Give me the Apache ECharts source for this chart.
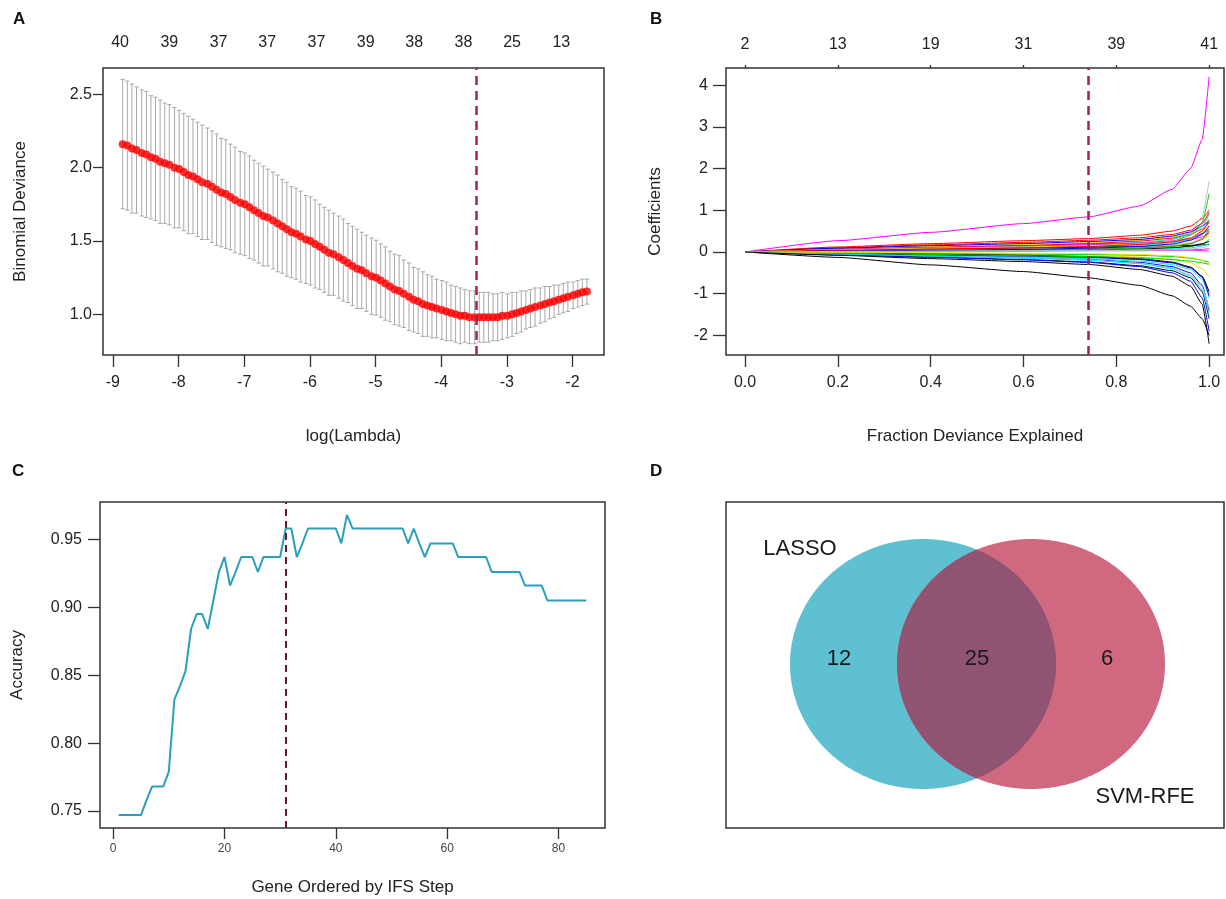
<!DOCTYPE html>
<html><head><meta charset="utf-8">
<script src="https://cdn.jsdelivr.net/npm/echarts@6/dist/echarts.min.js"></script>
<style>html,body{margin:0;padding:0;background:#fff}#c{width:1226px;height:899px}</style>
</head><body><div id="c"></div>
<script>
// ---------- Panel A: cv.glmnet binomial deviance ----------
const logLambda = [
 -8.85,-8.78,-8.71,-8.64,-8.56,-8.49,-8.42,-8.35,-8.28,-8.21,
 -8.14,-8.06,-7.99,-7.92,-7.85,-7.78,-7.71,-7.64,-7.56,-7.49,
 -7.42,-7.35,-7.28,-7.21,-7.14,-7.06,-6.99,-6.92,-6.85,-6.78,
 -6.71,-6.64,-6.56,-6.49,-6.42,-6.35,-6.28,-6.21,-6.14,-6.06,
 -5.99,-5.92,-5.85,-5.78,-5.71,-5.64,-5.56,-5.49,-5.42,-5.35,
 -5.28,-5.21,-5.14,-5.06,-4.99,-4.92,-4.85,-4.78,-4.71,-4.64,
 -4.57,-4.49,-4.42,-4.35,-4.28,-4.21,-4.14,-4.07,-3.99,-3.92,
 -3.85,-3.78,-3.71,-3.64,-3.57,-3.49,-3.42,-3.35,-3.28,-3.21,
 -3.14,-3.07,-2.99,-2.92,-2.85,-2.78,-2.71,-2.64,-2.57,-2.49,
 -2.42,-2.35,-2.28,-2.21,-2.14,-2.07,-1.99,-1.92,-1.85,-1.78];
const cvMean = [
 2.16,2.15,2.13,2.12,2.10,2.09,2.07,2.06,2.04,2.03,
 2.02,2.00,1.99,1.97,1.95,1.94,1.92,1.90,1.89,1.87,
 1.85,1.83,1.82,1.80,1.78,1.76,1.75,1.73,1.71,1.69,
 1.67,1.66,1.64,1.62,1.60,1.58,1.56,1.55,1.53,1.51,
 1.50,1.48,1.46,1.44,1.42,1.41,1.39,1.37,1.35,1.33,
 1.31,1.30,1.28,1.26,1.25,1.23,1.21,1.19,1.17,1.16,
 1.14,1.12,1.10,1.09,1.07,1.06,1.05,1.04,1.03,1.02,
 1.01,1.00,0.99,0.99,0.98,0.98,0.98,0.98,0.98,0.98,
 0.98,0.99,0.99,1.00,1.01,1.02,1.03,1.04,1.05,1.06,
 1.07,1.08,1.09,1.10,1.11,1.12,1.13,1.14,1.15,1.155];
const cvSE = [
 0.44,0.44,0.44,0.43,0.43,0.43,0.42,0.42,0.42,0.41,
 0.41,0.41,0.40,0.40,0.40,0.39,0.39,0.39,0.38,0.38,
 0.38,0.37,0.37,0.36,0.36,0.35,0.35,0.35,0.34,0.34,
 0.34,0.33,0.33,0.33,0.32,0.32,0.31,0.31,0.31,0.30,
 0.30,0.30,0.29,0.29,0.29,0.28,0.28,0.28,0.27,0.27,
 0.27,0.26,0.26,0.26,0.255,0.25,0.25,0.24,0.24,0.24,
 0.23,0.23,0.22,0.22,0.22,0.21,0.21,0.20,0.20,0.20,
 0.19,0.19,0.19,0.18,0.18,0.18,0.17,0.17,0.17,0.16,
 0.16,0.16,0.15,0.15,0.14,0.14,0.13,0.13,0.13,0.12,
 0.12,0.11,0.11,0.10,0.10,0.10,0.09,0.09,0.09,0.085];
const lambdaMinLog = -3.47;
const lambdaTicks = [-9,-8,-7,-6,-5,-4,-3,-2];
const devianceTicks = [1.0,1.5,2.0,2.5];
const topPosA = [-8.89,-8.14,-7.39,-6.65,-5.90,-5.15,-4.41,-3.66,-2.92,-2.17];
const topCountA = [40,39,37,37,37,39,38,38,25,13];

// ---------- Panel B: coefficient paths ----------
const fracDev = [0,0.2,0.4,0.6,0.74,0.85,0.92,0.96,0.985,1.0];
const coefPaths = [
 [0,-0.13,-0.31,-0.47,-0.62,-0.80,-1.05,-1.30,-1.60,-2.00],
 [0,0.12,0.20,0.27,0.32,0.40,0.50,0.62,0.80,1.00],
 [0,0.05,0.08,0.10,0.12,0.17,0.25,0.40,0.70,1.40],
 [0,-0.05,-0.10,-0.14,-0.18,-0.25,-0.35,-0.50,-0.80,-1.40],
 [0,-0.04,-0.08,-0.12,-0.16,-0.22,-0.30,-0.42,-0.65,-1.10],
 [0,0.07,0.12,0.16,0.19,0.22,0.26,0.30,0.36,0.45],
 [0,0.08,0.13,0.18,0.22,0.28,0.36,0.45,0.60,0.80],
 [0,0.06,0.10,0.13,0.15,0.20,0.30,0.45,0.85,1.70],
 [0,-0.06,-0.12,-0.18,-0.24,-0.33,-0.45,-0.62,-0.95,-1.60],
 [0,0.10,0.17,0.23,0.28,0.34,0.42,0.52,0.68,0.95],
 [0,0.03,0.05,0.06,0.07,0.08,0.10,0.13,0.18,0.30],
 [0,0.09,0.15,0.20,0.25,0.30,0.38,0.48,0.62,0.75],
 [0,0.04,0.07,0.10,0.12,0.16,0.22,0.30,0.45,0.60],
 [0,0.03,0.05,0.06,0.07,0.07,0.06,0.05,0.03,0.02],
 [0,-0.02,-0.04,-0.06,-0.08,-0.12,-0.18,-0.26,-0.40,-0.60],
 [0,-0.03,-0.06,-0.09,-0.12,-0.18,-0.26,-0.38,-0.60,-1.00],
 [0,0.02,0.03,0.04,0.05,0.07,0.10,0.14,0.20,0.25],
 [0,0.06,0.11,0.15,0.20,0.26,0.33,0.42,0.55,0.70],
 [0,-0.01,-0.03,-0.05,-0.06,-0.08,-0.11,-0.15,-0.20,-0.25],
 [0,-0.07,-0.13,-0.19,-0.25,-0.35,-0.50,-0.70,-1.10,-1.90],
 [0,0.05,0.09,0.13,0.16,0.22,0.30,0.42,0.62,0.90],
 [0,0.01,0.02,0.02,0.03,0.03,0.04,0.05,0.06,0.08],
 [0,0.04,0.06,0.08,0.10,0.13,0.17,0.22,0.30,0.38],
 [0,-0.05,-0.09,-0.14,-0.19,-0.27,-0.38,-0.55,-0.85,-1.35],
 [0,0.04,0.07,0.09,0.11,0.13,0.15,0.16,0.17,0.18],
 [0,0.02,0.04,0.06,0.08,0.10,0.14,0.20,0.30,0.50],
 [0,0.02,0.04,0.05,0.06,0.09,0.13,0.20,0.32,0.55],
 [0,-0.04,-0.07,-0.10,-0.13,-0.18,-0.26,-0.38,-0.60,-1.05],
 [0,0.01,0.02,0.03,0.04,0.05,0.07,0.10,0.14,0.20],
 [0,0.06,0.10,0.14,0.17,0.21,0.26,0.33,0.44,0.55],
 [0,0.05,0.09,0.12,0.15,0.19,0.25,0.33,0.48,0.65],
 [0,0.03,0.05,0.07,0.09,0.12,0.16,0.22,0.32,0.42],
 [0,-0.02,-0.05,-0.08,-0.11,-0.16,-0.24,-0.36,-0.58,-0.95],
 [0,0.04,0.07,0.10,0.13,0.18,0.24,0.33,0.50,0.75],
 [0,-0.03,-0.06,-0.09,-0.11,-0.14,-0.18,-0.22,-0.26,-0.30],
 [0,0.02,0.04,0.06,0.09,0.13,0.19,0.28,0.42,0.62],
 [0,-0.05,-0.10,-0.15,-0.20,-0.28,-0.40,-0.58,-0.90,-1.50],
 [0,0.27,0.47,0.68,0.84,1.10,1.50,2.00,2.70,4.20],
 [0,-0.01,-0.02,-0.03,-0.04,-0.06,-0.09,-0.13,-0.20,-0.30],
 [0,0.01,0.02,0.03,0.03,0.04,0.05,0.07,0.10,0.15],
 [0,-0.08,-0.16,-0.23,-0.30,-0.42,-0.58,-0.82,-1.25,-2.20]];
const pathColors = ['#000000','#ff0000','#00cd00','#0000ff','#00e5ee','#ff00ff','#e8e800','#bebebe'];
const fracSelected = 0.74;
const fracTicks = [0,0.2,0.4,0.6,0.8,1.0];
const topCountB = [2,13,19,31,39,41];
const coefTicks = [-2,-1,0,1,2,3,4];

// ---------- Panel C: IFS accuracy ----------
const ifsAccuracy = [
 0.747,0.747,0.747,0.747,0.747,0.758,0.768,0.768,0.768,0.779,
 0.832,0.842,0.853,0.884,0.895,0.895,0.884,0.905,0.926,0.937,
 0.916,0.926,0.937,0.937,0.937,0.926,0.937,0.937,0.937,0.937,
 0.958,0.958,0.937,0.947,0.958,0.958,0.958,0.958,0.958,0.958,
 0.947,0.968,0.958,0.958,0.958,0.958,0.958,0.958,0.958,0.958,
 0.958,0.958,0.947,0.958,0.947,0.937,0.947,0.947,0.947,0.947,
 0.947,0.937,0.937,0.937,0.937,0.937,0.937,0.926,0.926,0.926,
 0.926,0.926,0.926,0.916,0.916,0.916,0.916,0.905,0.905,0.905,
 0.905,0.905,0.905,0.905,0.905];
const ifsBest = 31;
const geneTicks = [0,20,40,60,80];
const accTicks = [0.75,0.80,0.85,0.90,0.95];

// ---------- Panel D: Venn ----------
const vennSetNames = ['LASSO','SVM-RFE'];
const vennCounts = [12,25,6];

// ---------- layout constants ----------
const FONT = 'Liberation Sans, Arial, Helvetica, sans-serif';
const TXT = '#222';
const AX = '#333';
const vennShapes = [ {cx:197, cy:162, rx:133, ry:125}, {cx:305, cy:162, rx:134, ry:125} ];
const vennFill = ['#5fc0d2','#d06880','#905371'];
const vennTextPos = [[74,47],[113,157],[251,157],[381,157],[419,295]];

const lbl = (extra) => Object.assign({fontSize:16, color:TXT, fontFamily:FONT}, extra);
const nameStyle = {fontSize:17, color:TXT, fontFamily:FONT};
const tickStyle = {color:AX, width:1.3};
const noLine = {show:false, onZero:false};
const gridBase = {show:true, borderColor:'#333', borderWidth:1.5, backgroundColor:'#fff', containLabel:false};

function ellipsePts(e){
  const pts=[];
  for(let t=0;t<360;t+=1){const a=t*Math.PI/180; pts.push([e.cx+e.rx*Math.cos(a), e.cy+e.ry*Math.sin(a)]);}
  return pts;
}
function inside(p,e){const dx=(p[0]-e.cx)/e.rx, dy=(p[1]-e.cy)/e.ry; return dx*dx+dy*dy<=1;}
function lensPts(){
  const [b,p]=vennShapes; const out=[];
  for(let t=0;t<=360;t+=0.5){const a=t*Math.PI/180; const q=[p.cx+p.rx*Math.cos(a), p.cy+p.ry*Math.sin(a)]; if(inside(q,b)) out.push(q);}
  for(let t=-180;t<=180;t+=0.5){const a=t*Math.PI/180; const q=[b.cx+b.rx*Math.cos(a), b.cy+b.ry*Math.sin(a)]; if(inside(q,p)) out.push(q);}
  return out;
}

const chart = echarts.init(document.getElementById('c'), null, {renderer:'canvas', width:1226, height:899});

const series = [];
// A error bars
series.push({
  type:'custom', xAxisIndex:0, yAxisIndex:0, z:2,
  data: logLambda.map((x,i)=>[x, cvMean[i]-cvSE[i], cvMean[i]+cvSE[i]]),
  encode:{x:0, y:[1,2]},
  renderItem:(params, api)=>{
    const x=api.value(0), lo=api.value(1), hi=api.value(2);
    const p1=api.coord([x,hi]), p2=api.coord([x,lo]); const cw=2.2;
    const st={stroke:'#a9a9a9', lineWidth:1};
    return {type:'group', children:[
      {type:'line', shape:{x1:p1[0],y1:p1[1],x2:p2[0],y2:p2[1]}, style:st},
      {type:'line', shape:{x1:p1[0]-cw,y1:p1[1],x2:p1[0]+cw,y2:p1[1]}, style:st},
      {type:'line', shape:{x1:p2[0]-cw,y1:p2[1],x2:p2[0]+cw,y2:p2[1]}, style:st}
    ]};
  }
});
// A mean points
series.push({
  type:'scatter', xAxisIndex:0, yAxisIndex:0, z:3,
  symbol:'circle', symbolSize:8, itemStyle:{color:'#ff0000'},
  data: logLambda.map((x,i)=>[x, cvMean[i]]),
  markLine:{silent:true, symbol:['none','none'], label:{show:false}, animation:false,
    lineStyle:{type:[9,6], color:'#a3244f', width:2.5}, data:[{xAxis:lambdaMinLog}]}
});
// B paths
coefPaths.forEach((row, k)=>{
  series.push({
    type:'line', xAxisIndex:2, yAxisIndex:1, z:2,
    data: fracDev.map((x,i)=>[x,row[i]]),
    showSymbol:false, smooth:0.15, smoothMonotone:'x',
    lineStyle:{width:1, color:pathColors[k % pathColors.length]}
  });
});
series[series.length-1].markLine = {silent:true, symbol:['none','none'], label:{show:false}, animation:false,
  lineStyle:{type:[9,6], color:'#a3244f', width:2.5}, data:[{xAxis:fracSelected}]};
// C
series.push({
  type:'line', xAxisIndex:4, yAxisIndex:2, z:3,
  data: ifsAccuracy.map((v,i)=>[i+1, v]),
  showSymbol:false, lineStyle:{width:2, color:'#2a9fbd'},
  markLine:{silent:true, symbol:['none','none'], label:{show:false}, animation:false,
    lineStyle:{type:[7,5], color:'#6e1838', width:2}, data:[{xAxis:ifsBest}]}
});
// D shapes
series.push({
  type:'custom', xAxisIndex:5, yAxisIndex:3, z:2,
  data:[[0],[1],[2]],
  renderItem:(params, api)=>{
    const i=params.dataIndex;
    const pts = (i<2 ? ellipsePts(vennShapes[i]) : lensPts()).map(p=>api.coord(p));
    return {type:'polygon', shape:{points:pts}, style:{fill:vennFill[i], stroke:null}};
  }
});
// D texts
const vennTexts = [vennSetNames[0], String(vennCounts[0]), String(vennCounts[1]), String(vennCounts[2]), vennSetNames[1]];
series.push({
  type:'custom', xAxisIndex:5, yAxisIndex:3, z:5,
  data: vennTextPos.map((p,i)=>[p[0],p[1],i]),
  renderItem:(params, api)=>{
    const c=api.coord([api.value(0), api.value(1)]);
    return {type:'text', x:c[0], y:c[1], style:{text:vennTexts[params.dataIndex], fontSize:22, fontFamily:FONT, fill:'#1a1a1a', align:'center', verticalAlign:'middle'}};
  }
});

const option = {
  animation:false,
  backgroundColor:'#fff',
  graphic:[
    {type:'text', left:13, top:11, style:{text:'A', font:'bold 17px '+FONT, fill:'#111'}},
    {type:'text', left:650, top:11, style:{text:'B', font:'bold 17px '+FONT, fill:'#111'}},
    {type:'text', left:12, top:463, style:{text:'C', font:'bold 17px '+FONT, fill:'#111'}},
    {type:'text', left:650, top:463, style:{text:'D', font:'bold 17px '+FONT, fill:'#111'}}
  ],
  grid:[
    Object.assign({left:103, top:68, width:501, height:287}, gridBase),
    Object.assign({left:726, top:68, width:498, height:287}, gridBase),
    Object.assign({left:100, top:502, width:505, height:326}, gridBase),
    Object.assign({left:726, top:502, width:498, height:326}, gridBase)
  ],
  xAxis:[
    {gridIndex:0, type:'value', min:-9.15, max:-1.52, splitLine:{show:false}, axisLine:noLine,
     axisTick:{show:true, length:12, customValues:lambdaTicks, lineStyle:tickStyle},
     axisLabel:lbl({customValues:lambdaTicks, margin:20, formatter:v=>String(v)}),
     name:'log(Lambda)', nameLocation:'middle', nameGap:73, nameTextStyle:nameStyle},
    {gridIndex:0, type:'value', position:'top', min:-9.15, max:-1.52, splitLine:{show:false}, axisLine:noLine,
     axisTick:{show:false},
     axisLabel:lbl({customValues:topPosA, margin:17, formatter:v=>{const k=topPosA.findIndex(p=>Math.abs(p-v)<1e-6); return k>=0?String(topCountA[k]):'';}})},
    {gridIndex:1, type:'value', min:-0.041, max:1.032, splitLine:{show:false}, axisLine:noLine,
     axisTick:{show:true, length:12, customValues:fracTicks, lineStyle:tickStyle},
     axisLabel:lbl({customValues:fracTicks, margin:20, formatter:v=>v.toFixed(1)}),
     name:'Fraction Deviance Explained', nameLocation:'middle', nameGap:73, nameTextStyle:nameStyle},
    {gridIndex:1, type:'value', position:'top', min:-0.041, max:1.032, splitLine:{show:false}, axisLine:noLine,
     axisTick:{show:true, length:3, customValues:fracTicks, lineStyle:tickStyle},
     axisLabel:lbl({customValues:fracTicks, margin:15, formatter:v=>{const k=fracTicks.findIndex(p=>Math.abs(p-v)<1e-6); return k>=0?String(topCountB[k]):'';}})},
    {gridIndex:2, type:'value', min:-2.36, max:88.36, splitLine:{show:false}, axisLine:noLine,
     axisTick:{show:true, length:11, customValues:geneTicks, lineStyle:tickStyle},
     axisLabel:{customValues:geneTicks, margin:15, fontSize:12, color:'#444', fontFamily:FONT},
     name:'Gene Ordered by IFS Step', nameLocation:'middle', nameGap:51, nameTextStyle:nameStyle},
    {gridIndex:3, type:'value', min:0, max:498, show:false}
  ],
  yAxis:[
    {gridIndex:0, type:'value', min:0.723, max:2.679, splitLine:{show:false}, axisLine:noLine,
     axisTick:{show:true, length:10, customValues:devianceTicks, lineStyle:tickStyle},
     axisLabel:lbl({customValues:devianceTicks, margin:11, formatter:v=>v.toFixed(1)}),
     name:'Binomial Deviance', nameLocation:'middle', nameGap:74, nameRotate:90, nameTextStyle:nameStyle},
    {gridIndex:1, type:'value', min:-2.47, max:4.41, splitLine:{show:false}, axisLine:noLine,
     axisTick:{show:true, length:13, customValues:coefTicks, lineStyle:tickStyle},
     axisLabel:lbl({customValues:coefTicks, margin:18, formatter:v=>String(v)}),
     name:'Coefficients', nameLocation:'middle', nameGap:62, nameRotate:90, nameTextStyle:nameStyle},
    {gridIndex:2, type:'value', min:0.7375, max:0.9775, splitLine:{show:false}, axisLine:noLine,
     axisTick:{show:true, length:12, customValues:accTicks, lineStyle:tickStyle},
     axisLabel:lbl({customValues:accTicks, margin:18, formatter:v=>v.toFixed(2)}),
     name:'Accuracy', nameLocation:'middle', nameGap:74, nameRotate:90, nameTextStyle:nameStyle},
    {gridIndex:3, type:'value', min:0, max:326, inverse:true, show:false}
  ],
  series: series
};
chart.setOption(option);
</script></body></html>
